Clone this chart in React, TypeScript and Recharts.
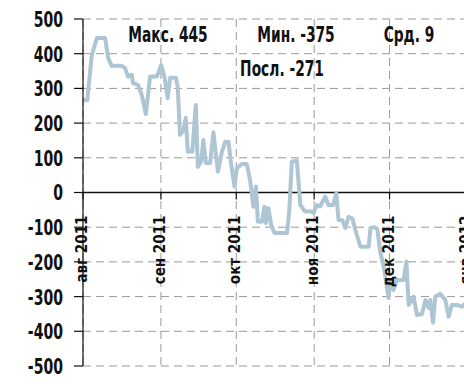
import React from "react";
import {
  LineChart,
  Line,
  XAxis,
  YAxis,
  CartesianGrid,
  ReferenceLine,
  Customized,
} from "recharts";

// Days since 1 Aug 2011
const days = [
  0.4, 1.7, 3.5, 5.5, 8.8, 10, 11.4, 15.4, 16.7, 17.9, 19.4, 19.9, 21.9, 23.4, 25,
  26.7, 29.4, 31.1, 32.4, 33.7, 34.7, 36.9, 37.7, 38.6, 40, 40.9, 41.7, 43.5, 44.9,
  45.7, 47, 47.9, 48.9, 50.6, 51.9, 53.7, 55.3, 56.6, 57.9, 59, 60.3, 61.2, 63.2,
  65.2, 66.5, 67.8, 68.8, 69.6, 71.2, 72.2, 72.8, 73.8, 74.9, 76.2, 81.2, 82.1,
  83.1, 85.1, 86.5, 88.4, 91.1, 91.8, 93.1, 94.4, 96.4, 97.7, 99.6, 100.8, 101.7,
  103.2, 104.4, 105.7, 107.2, 108.4, 110.4, 113.7, 114.4, 116, 117.1, 118.3, 119.9,
  121.6, 122.3, 123.6, 124.9, 127.6, 128.7, 129.6, 131.6, 132.9, 134.9, 136.3,
  137.6, 138.2, 139.3, 140.2, 142.2, 144.2, 145.5, 146.8, 148.8, 150.8, 152.5,
  154, 155,
];
const values = [
  266, 266, 396, 445, 445, 388, 365, 365, 359, 334, 339, 315, 310, 281, 226,
  334, 334, 367, 334, 272, 331, 331, 305, 166, 180, 215, 118, 118, 252,
  74, 89, 151, 85, 85, 174, 60, 118, 146, 146, 79, 17, 70, 82,
  82, 36, -41, 17, -84, -84, -41, -88, -45, -94, -117, -117, -50,
  89, 92, -36, -55, -55, -59, -36, -40, -12, -36, -36, -2, -79,
  -80, -102, -70, -75, -108, -156, -156, -102, -100, -105, -170, -223,
  -304, -252, -281, -252, -252, -199, -324, -300, -353, -350, -310,
  -333, -310, -375, -300, -292, -310, -358, -324, -324, -329, -318,
  -290, -271,
];

const monthTicks = [0, 31, 61, 92, 122, 153];
const monthLabels = ["авг 2011", "сен 2011", "окт 2011", "ноя 2011", "дек 2011", "янв 2012"];
const yTicks = [-500, -400, -300, -200, -100, 0, 100, 200, 300, 400, 500];
const statRow1 = ["Макс. 445", "Мин. -375", "Срд. 9"];
const statRow2 = ["Посл. -271"];

const data = days.map((d, i) => ({ day: d, value: values[i] }));

const FONT = "'DejaVu Sans Condensed', 'DejaVu Sans', sans-serif";
const CHART_W = 480;
const CHART_H = 384;
const MARGIN = { top: 19, right: 0, bottom: 17, left: 0 };
const X_AXIS_H = 1;
const Y_MIN = -500;
const Y_MAX = 500;
const PLOT_H = CHART_H - MARGIN.top - MARGIN.bottom - X_AXIS_H;
const ZERO_Y = MARGIN.top + (PLOT_H * Y_MAX) / (Y_MAX - Y_MIN);

const MonthTick = (props: any) => {
  const { x, payload } = props;
  const idx = monthTicks.indexOf(payload.value);
  const label = idx >= 0 ? monthLabels[idx] : "";
  const ty = ZERO_Y + 23;
  return (
    <g>
      <line x1={x} y1={ZERO_Y} x2={x} y2={ZERO_Y + 7} stroke="#111" strokeWidth={1.2} />
      <text
        x={0}
        y={0}
        dy={4}
        transform={`translate(${x}, ${ty}) rotate(-90) scale(0.94, 1)`}
        textAnchor="end"
        fontFamily={FONT}
        fontWeight="bold"
        fontSize={16}
        fill="#111"
      >
        {label}
      </text>
    </g>
  );
};

const ValueTick = (props: any) => {
  const { x, y, payload } = props;
  return (
    <text
      x={0}
      y={0}
      dy="0.36em"
      transform={`translate(${x}, ${y}) scale(0.71, 1)`}
      textAnchor="end"
      fontFamily={FONT}
      fontWeight="bold"
      fontSize={22}
      fill="#111"
    >
      {payload.value}
    </text>
  );
};

const StatText = ({ x, y, text }: { x: number; y: number; text: string }) => (
  <text
    x={0}
    y={0}
    transform={`translate(${x}, ${y}) scale(0.73, 1)`}
    textAnchor="middle"
    fontFamily={FONT}
    fontWeight="bold"
    fontSize={21}
    fill="#111"
  >
    {text}
  </text>
);

const Stats = () => (
  <g>
    <StatText x={168} y={42} text={statRow1[0]} />
    <StatText x={296} y={42} text={statRow1[1]} />
    <StatText x={409} y={42} text={statRow1[2]} />
    <StatText x={282} y={76} text={statRow2[0]} />
  </g>
);

export default function App() {
  return (
    <div
      style={{
        position: "fixed",
        left: 0,
        top: 0,
        width: 464,
        height: 384,
        overflow: "hidden",
        background: "#fff",
      }}
    >
      <LineChart width={CHART_W} height={CHART_H} data={data} margin={MARGIN}>
        <CartesianGrid stroke="#999" strokeDasharray="8 5" strokeWidth={1} />
        <XAxis
          type="number"
          dataKey="day"
          domain={[0, 158]}
          ticks={monthTicks}
          interval={0}
          axisLine={false}
          tickLine={false}
          height={X_AXIS_H}
          tick={<MonthTick />}
        />
        <YAxis
          type="number"
          domain={[Y_MIN, Y_MAX]}
          ticks={yTicks}
          interval={0}
          width={83}
          axisLine={{ stroke: "#111", strokeWidth: 1.2 }}
          tickLine={{ stroke: "#111", strokeWidth: 1.2 }}
          tickSize={9}
          tickMargin={11}
          tick={<ValueTick />}
        />
        <ReferenceLine y={0} stroke="#111" strokeWidth={1.5} />
        <Line
          type="linear"
          dataKey="value"
          stroke="#aec6d4"
          strokeWidth={4}
          strokeLinejoin="round"
          dot={false}
          isAnimationActive={false}
        />
        <Customized component={Stats} />
      </LineChart>
    </div>
  );
}
